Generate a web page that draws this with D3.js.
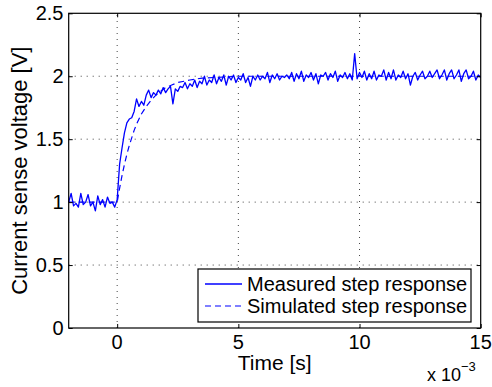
<!DOCTYPE html>
<html><head><meta charset="utf-8">
<script src="https://cdn.jsdelivr.net/npm/d3@7"></script>
<style>
html,body{margin:0;padding:0;background:#fff;}
text{font-family:"Liberation Sans",Arial,Helvetica,sans-serif;fill:#000;}
</style></head>
<body><svg id="c" width="492" height="387"></svg>
<script>
// ---- data (time in ms, i.e. x 10^-3 s) ----
const xTicks = [0, 5, 10, 15];
const xTickLabels = ["0", "5", "10", "15"];
const yTicks = [0, 0.5, 1, 1.5, 2, 2.5];
const yTickLabels = ["0", "0.5", "1", "1.5", "2", "2.5"];
const xDomain = [-2, 15];
const yDomain = [0, 2.5];
const seriesNames = ["Measured step response", "Simulated step response"];

// measured samples every 0.1 ms starting at -2.0 ms
const measuredStart = -2.0;
const measuredStep = 0.1;
const measured = [
  1.00, 1.07, 0.97, 0.99, 0.96, 1.07, 0.98, 1.00, 1.06, 0.97,   // -2.0 .. -1.1
  1.00, 0.93, 1.05, 0.98, 1.02, 0.96, 1.04, 0.99, 1.00, 0.96,   // -1.0 .. -0.1
  1.02, 1.30, 1.43, 1.55, 1.63, 1.66, 1.67, 1.72, 1.82, 1.76,   // 0.0 .. 0.9
  1.80, 1.77, 1.85, 1.89, 1.83, 1.87, 1.85, 1.89, 1.86, 1.91,   // 1.0 .. 1.9
  1.87, 1.90, 1.92, 1.78, 1.90, 1.88, 1.92, 1.91, 1.95, 1.90,   // 2.0 .. 2.9
  1.94, 1.92, 1.97, 1.91, 1.96, 1.94, 2.00, 1.93, 1.97, 1.95,   // 3.0 .. 3.9
  2.01, 1.94, 1.99, 1.96, 2.01, 1.93, 2.00, 1.97, 2.01, 1.95,   // 4.0 .. 4.9
  1.99, 1.97, 2.02, 1.95, 1.99, 1.92, 2.00, 1.97, 2.01, 1.97,   // 5.0 .. 5.9
  2.00, 1.98, 2.03, 1.95, 2.01, 1.98, 2.02, 1.97, 2.00, 1.99,   // 6.0 .. 6.9
  2.01, 1.98, 2.03, 1.96, 2.02, 1.98, 2.04, 1.96, 2.01, 1.99,   // 7.0 .. 7.9
  2.03, 1.97, 2.02, 1.94, 2.01, 2.00, 2.03, 1.97, 2.02, 1.99,   // 8.0 .. 8.9
  2.04, 1.96, 2.01, 1.99, 2.03, 1.98, 2.02, 1.97, 2.18, 1.98,   // 9.0 .. 9.9
  2.03, 1.99, 2.04, 1.97, 2.02, 1.98, 2.04, 1.97, 2.01, 2.00,   // 10.0 .. 10.9
  2.05, 1.97, 2.03, 1.98, 2.05, 1.97, 2.01, 1.99, 2.04, 1.98,   // 11.0 .. 11.9
  2.02, 1.93, 2.00, 2.03, 1.97, 2.01, 2.04, 1.98, 2.00, 2.04,   // 12.0 .. 12.9
  1.99, 2.02, 2.05, 1.98, 2.01, 2.05, 1.97, 2.02, 2.05, 1.98,   // 13.0 .. 13.9
  2.01, 2.05, 1.96, 2.02, 2.05, 1.98, 2.00, 2.04, 1.97, 2.01,   // 14.0 .. 14.9
  1.99                                                          // 15.0
];

// simulated response (time ms, value V)
const simTime  = [-2, 0, 0.1, 0.2, 0.3, 0.4, 0.5, 0.6, 0.7, 0.8, 0.9, 1.0, 1.2, 1.4, 1.6, 1.8, 2.0, 2.25, 2.5, 3.0, 3.5, 4.0, 5.0, 15];
const simValue = [1.0, 1.0, 1.11, 1.21, 1.30, 1.38, 1.45, 1.51, 1.57, 1.62, 1.66, 1.70, 1.76, 1.81, 1.85, 1.88, 1.91, 1.93, 1.95, 1.97, 1.985, 1.99, 2.0, 2.0];

// ---- drawing ----
const svg = d3.select("#c");
const pL = 68.7, pR = 480.7, pT = 13.3, pB = 328;

const x = d3.scaleLinear().domain(xDomain).range([pL, pR]);
const y = d3.scaleLinear().domain(yDomain).range([pB, pT]);

const measuredPts = measured.map((v, i) => [measuredStart + i * measuredStep, v]);
const simPts = simTime.map((t, i) => [t, simValue[i]]);

// grid
const g = svg.append("g");
g.selectAll("line.gx").data(xTicks.filter(t => t > xDomain[0] && t < xDomain[1]))
  .join("line").attr("x1", d => x(d)).attr("x2", d => x(d)).attr("y1", pB).attr("y2", pT)
  .attr("stroke", "#444").attr("stroke-width", 1).attr("stroke-dasharray", "1,5");
g.selectAll("line.gy").data(yTicks.filter(t => t > yDomain[0] && t < yDomain[1]))
  .join("line").attr("y1", d => y(d)).attr("y2", d => y(d)).attr("x1", pL).attr("x2", pR)
  .attr("stroke", "#444").attr("stroke-width", 1).attr("stroke-dasharray", "1,5");

// lines
const line = d3.line().x(d => x(d[0])).y(d => y(d[1]));
svg.append("path").attr("d", line(simPts)).attr("fill", "none")
  .attr("stroke", "#0000ff").attr("stroke-width", 1.2).attr("stroke-dasharray", "6,4");
svg.append("path").attr("d", line(measuredPts)).attr("fill", "none")
  .attr("stroke", "#0000ff").attr("stroke-width", 1.3).attr("stroke-linejoin", "round");

// axes (ticks inward, box)
const tl = 4;
const axB = d3.axisBottom(x).tickValues(xTicks).tickSize(-tl).tickFormat("");
const axT = d3.axisTop(x).tickValues(xTicks).tickSize(-tl).tickFormat("");
const axL = d3.axisLeft(y).tickValues(yTicks).tickSize(-tl).tickFormat("");
const axR = d3.axisRight(y).tickValues(yTicks).tickSize(-tl).tickFormat("");
[[axB, `translate(0,${pB})`], [axT, `translate(0,${pT})`], [axL, `translate(${pL},0)`], [axR, `translate(${pR},0)`]]
  .forEach(([a, tr]) => {
    const gg = svg.append("g").attr("transform", tr).call(a);
    gg.selectAll("path.domain").remove();
    gg.selectAll("line").attr("stroke", "#000").attr("stroke-width", 1);
  });
svg.append("rect").attr("x", pL).attr("y", pT).attr("width", pR - pL).attr("height", pB - pT)
  .attr("fill", "none").attr("stroke", "#000").attr("stroke-width", 1.2);

// tick labels
const tickFont = 20;
svg.selectAll("text.xt").data(xTicks).join("text")
  .attr("x", d => x(d)).attr("y", 349)
  .attr("text-anchor", "middle").style("font-size", tickFont + "px")
  .text((d, i) => xTickLabels[i]);
svg.selectAll("text.yt").data(yTicks).join("text")
  .attr("x", 63.5).attr("y", d => y(d) + 7)
  .attr("text-anchor", "end").style("font-size", tickFont + "px")
  .text((d, i) => yTickLabels[i]);

// axis labels
svg.append("text").attr("x", (pL + pR) / 2).attr("y", 369.5)
  .attr("text-anchor", "middle").style("font-size", "21px").text("Time [s]");
svg.append("text").attr("transform", `translate(27,${(pT + pB) / 2}) rotate(-90)`)
  .attr("text-anchor", "middle").style("font-size", "22px").text("Current sense voltage [V]");

// exponent
const ex = svg.append("text").attr("x", 427).attr("y", 381).style("font-size", "18px");
ex.append("tspan").text("x 10");
ex.append("tspan").attr("dy", -10).style("font-size", "13px").text("\u22123");

// legend
const lg = svg.append("g");
lg.append("rect").attr("x", 198).attr("y", 269).attr("width", 273).attr("height", 53)
  .attr("fill", "#fff").attr("stroke", "#000").attr("stroke-width", 1.2);
const rows = [284, 306];
lg.append("line").attr("x1", 205).attr("x2", 242).attr("y1", rows[0]).attr("y2", rows[0])
  .attr("stroke", "#0000ff").attr("stroke-width", 1.3);
lg.append("line").attr("x1", 205).attr("x2", 242).attr("y1", rows[1]).attr("y2", rows[1])
  .attr("stroke", "#0000ff").attr("stroke-width", 1.2).attr("stroke-dasharray", "6,4");
seriesNames.forEach((n, i) => {
  lg.append("text").attr("x", 247).attr("y", rows[i] + 7).style("font-size", "20px").text(n);
});
</script>
</body></html>
